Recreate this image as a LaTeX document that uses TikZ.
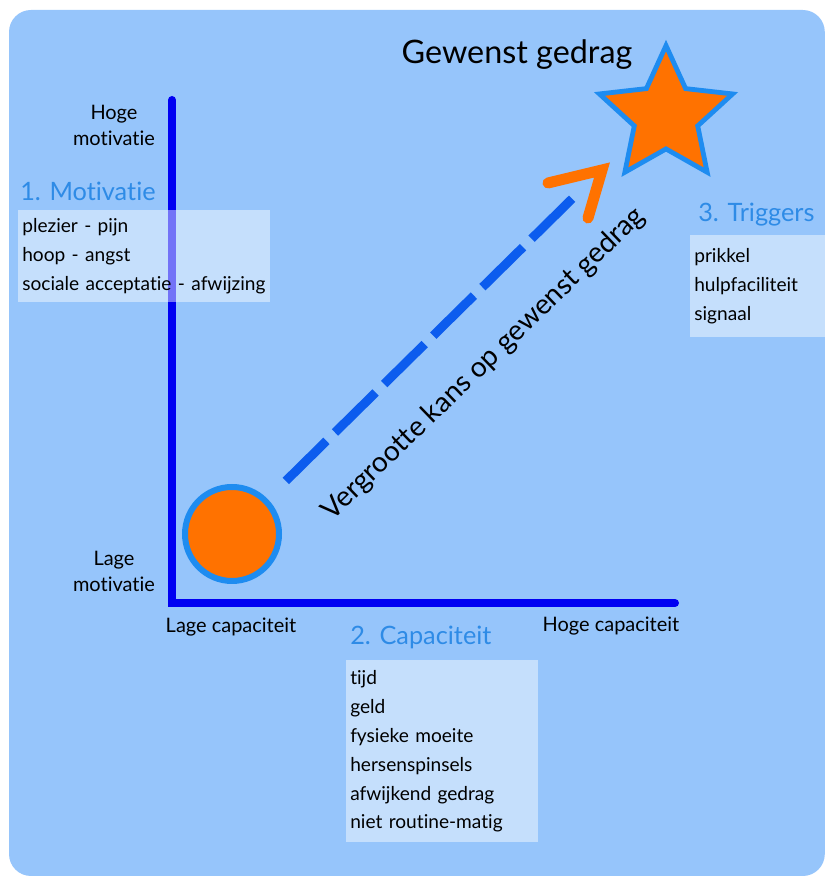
\documentclass[tikz,border=0pt]{standalone}
\usepackage{fontspec}
\setmainfont{Lato}[Ligatures=NoCommon]
\usetikzlibrary{shapes.geometric}
\definecolor{achtergrond}{HTML}{96C5FB}
\definecolor{asblauw}{HTML}{0000F2}
\definecolor{kopblauw}{HTML}{2E8BE6}
\definecolor{streepblauw}{HTML}{0C5CEE}
\definecolor{randblauw}{HTML}{1E8CF0}
\definecolor{oranje}{HTML}{FF7200}
\newcommand{\lijstfont}{\fontsize{13.6}{20.6}\selectfont\hyphenpenalty=10000}
\newcommand{\asfont}{\fontsize{14.2}{18.5}\selectfont}
\newcommand{\kopfont}{\fontsize{18}{22}\selectfont}
\newcommand{\titelfont}{\fontsize{23}{27}\selectfont}
\newcommand{\diagfont}{\fontsize{20}{24}\selectfont}

\begin{document}
\begin{tikzpicture}[inner sep=0pt,
  kop/.style={anchor=west,text=kopblauw,font=\kopfont},
  lijst/.style={anchor=north west,fill=white,fill opacity=0.45,text opacity=1,
    align=left,inner xsep=0.1cm,inner ysep=0.1cm,font=\lijstfont},
  astekst/.style={align=center,font=\asfont},
  as/.style={draw=asblauw,line width=0.2cm,line cap=round}]
\useasboundingbox (0,0) rectangle (20.6,21.95);
\fill[achtergrond,rounded corners=0.55cm] (0.225,0.05) rectangle (20.62,21.7);
%
\coordinate (ytop) at (4.3,19.45);
\coordinate (oorsprong) at (4.3,6.875);
\coordinate (xend) at (16.875,6.875);
\coordinate (pijlpunt) at (14.5,17.175);
%
\node[circle,fill=oranje,draw=randblauw,line width=0.15cm,minimum size=2.35cm] (bal) at (5.8,8.6) {};
\node[star,star points=5,star point ratio=2.1,fill=oranje,draw=randblauw,line width=0.12cm,minimum size=3.5cm] (ster) at (16.65,19.06) {};
%%
\draw[as] (ytop) -- (oorsprong) -- (xend);
\draw[streepblauw,line width=0.225cm,dash pattern=on 1.425cm off 0.3cm,shorten <=0.64cm] (bal) -- (pijlpunt);
\draw[oranje,line width=0.275cm,line cap=round] (13.7,17.375) -- (15.05,17.7) -- (14.7,16.5);
%%
\node[font=\titelfont] (doel) at (12.925,20.575) {Gewenst gedrag};
\node[astekst] (hogem) at (2.85,18.825) {Hoge\\motivatie};
\node[astekst] (lagem) at (2.85,7.675) {Lage\\motivatie};
\node[astekst] (lagec) at (5.775,6.275) {Lage capaciteit};
\node[astekst] (hogec) at (15.275,6.3) {Hoge capaciteit};
\node[rotate=44,font=\diagfont] (kans) at (12.1,12.85) {Vergrootte kans op gewenst gedrag};
%
\node[kop] (motkop) at (0.5,17.175) {1. Motivatie};
\node[lijst,text width=6.1cm,minimum height=2.3cm] (motlijst) at (0.45,16.7)
  {plezier - pijn\\hoop - angst\\sociale acceptatie - afwijzing};
\node[kop] (capkop) at (8.75,6.025) {2. Capaciteit};
\node[lijst,text width=4.6cm,minimum height=4.55cm] (caplijst) at (8.65,5.45)
  {tijd\\geld\\fysieke moeite\\hersenspinsels\\afwijkend gedrag\\niet routine-matig};
\node[kop] (trigkop) at (17.45,16.575) {3. Triggers};
\node[lijst,text width=3.2cm,minimum height=2.55cm] (triglijst) at (17.25,16.075)
  {prikkel\\hulpfaciliteit\\signaal};
\end{tikzpicture}
\end{document}
